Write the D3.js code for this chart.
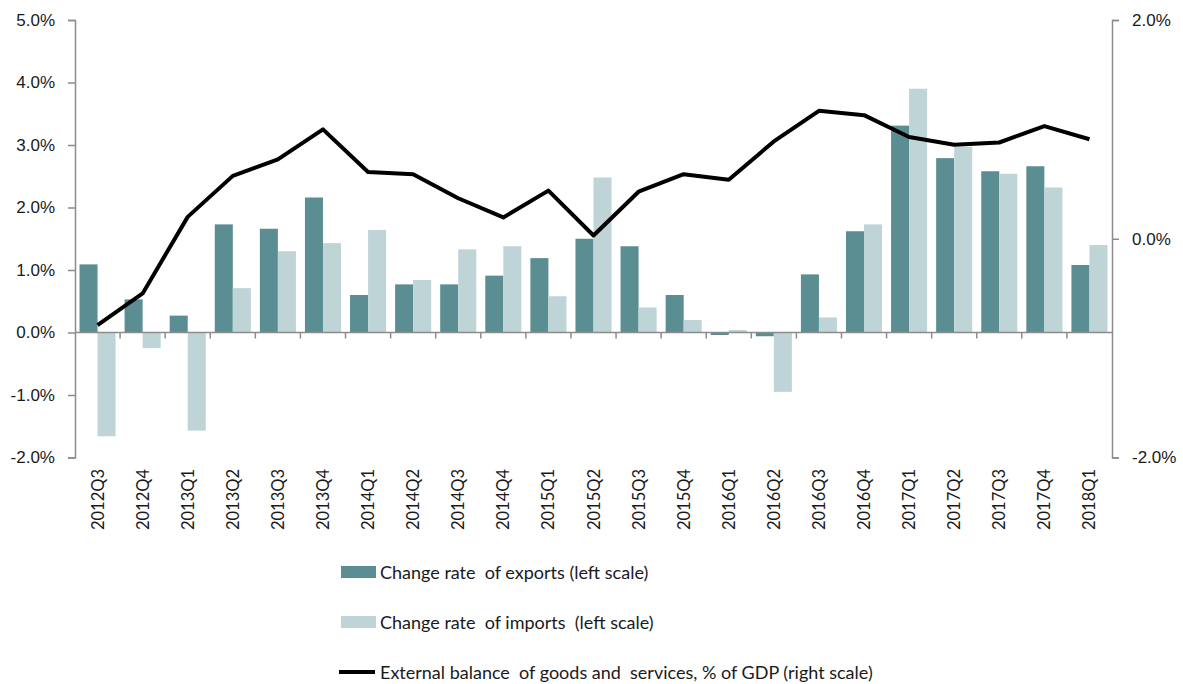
<!DOCTYPE html>
<html>
<head>
<meta charset="utf-8">
<script src="https://cdn.jsdelivr.net/npm/d3@7"></script>
<style>
  body { margin: 0; background: #fff; }
  svg { font-family: Lato, "Open Sans", sans-serif; }
</style>
</head>
<body>
<svg id="chart"></svg>
<script>
const quarters = ["2012Q3", "2012Q4", "2013Q1", "2013Q2", "2013Q3", "2013Q4", "2014Q1", "2014Q2",
  "2014Q3", "2014Q4", "2015Q1", "2015Q2", "2015Q3", "2015Q4", "2016Q1", "2016Q2", "2016Q3",
  "2016Q4", "2017Q1", "2017Q2", "2017Q3", "2017Q4", "2018Q1"];
const exportsRate = [1.09, 0.53, 0.27, 1.73, 1.66, 2.16, 0.60, 0.77, 0.77, 0.91, 1.19, 1.50, 1.38,
  0.60, -0.04, -0.06, 0.93, 1.62, 3.31, 2.79, 2.58, 2.66, 1.08];
const importsRate = [-1.66, -0.25, -1.57, 0.71, 1.30, 1.43, 1.64, 0.84, 1.33, 1.38, 0.58, 2.48, 0.40,
  0.20, 0.04, -0.95, 0.24, 1.73, 3.90, 2.97, 2.54, 2.32, 1.40];
const externalBalance = [-0.79, -0.50, 0.20, 0.575, 0.725, 1.00, 0.61, 0.59, 0.37, 0.195, 0.44, 0.03,
  0.43, 0.59, 0.54, 0.89, 1.17, 1.13, 0.93, 0.86, 0.88, 1.03, 0.91];
const leftTicks = [-2, -1, 0, 1, 2, 3, 4, 5];
const rightTicks = [-2, 0, 2];
const seriesNames = ["Change rate  of exports (left scale)", "Change rate  of imports  (left scale)",
  "External balance  of goods and  services, % of GDP (right scale)"];

const w = 1183, h = 684;
const plotLeft = 75, plotRight = 1112, plotTop = 20, plotBottom = 457.5;
const expColor = "#5b8e93", impColor = "#bfd4d7", axisColor = "#8c8c8c";
const pct = d => d3.format(".1f")(d).replace("\u2212", "-") + "%";

const svg = d3.select("#chart").attr("width", w).attr("height", h);

const x = d3.scaleBand().domain(quarters).range([plotLeft, plotRight]).padding(0);
const xInner = d3.scaleBand().domain(["exp", "imp"]).range([0, x.bandwidth()]).paddingInner(0).paddingOuter(0.25);
const yLeft = d3.scaleLinear().domain([-2, 5]).range([plotBottom, plotTop]);
const yRight = d3.scaleLinear().domain([-2, 2]).range([plotBottom, plotTop]);

// bars
const rows = quarters.map((q, i) => ({ q, exp: exportsRate[i], imp: importsRate[i] }));
const groups = svg.append("g").selectAll("g").data(rows).enter().append("g")
  .attr("transform", d => "translate(" + x(d.q) + ",0)");
groups.append("rect")
  .attr("x", xInner("exp"))
  .attr("width", xInner.bandwidth())
  .attr("y", d => yLeft(Math.max(0, d.exp)))
  .attr("height", d => Math.abs(yLeft(d.exp) - yLeft(0)))
  .attr("fill", expColor);
groups.append("rect")
  .attr("x", xInner("imp"))
  .attr("width", xInner.bandwidth())
  .attr("y", d => yLeft(Math.max(0, d.imp)))
  .attr("height", d => Math.abs(yLeft(d.imp) - yLeft(0)))
  .attr("fill", impColor);

// left axis
const axL = svg.append("g").attr("transform", "translate(" + plotLeft + ",0)")
  .call(d3.axisLeft(yLeft).tickValues(leftTicks).tickSize(7).tickPadding(13).tickFormat(pct));
// right axis
const axR = svg.append("g").attr("transform", "translate(" + plotRight + ",0)")
  .call(d3.axisRight(yRight).tickValues(rightTicks).tickSize(7).tickPadding(13).tickFormat(pct));
[axL, axR].forEach(a => {
  a.select(".domain").attr("stroke", axisColor).attr("stroke-width", 1.5);
  a.selectAll(".tick line").attr("stroke", axisColor).attr("stroke-width", 1.5);
  a.selectAll(".tick text").attr("fill", "#1a1a1a").style("font-size", "17px");
});

// category axis at zero
const axB = svg.append("g").attr("transform", "translate(0," + yLeft(0) + ")");
axB.append("line").attr("x1", plotLeft).attr("x2", plotRight)
  .attr("stroke", axisColor).attr("stroke-width", 1.5);
axB.selectAll("line.tk").data(quarters.slice(1)).enter().append("line")
  .attr("class", "tk")
  .attr("x1", d => x(d)).attr("x2", d => x(d))
  .attr("y1", 0).attr("y2", 6)
  .attr("stroke", axisColor).attr("stroke-width", 1.5);
svg.append("g").selectAll("text").data(quarters).enter().append("text")
  .attr("transform", d => "translate(" + (x(d) + x.bandwidth() / 2 + 6) + ",469) rotate(-90)")
  .attr("text-anchor", "end")
  .style("font-size", "16.5px")
  .attr("fill", "#1a1a1a")
  .text(d => d);

// line
const line = d3.line()
  .x((d, i) => x(quarters[i]) + x.bandwidth() / 2)
  .y(d => yRight(d));
svg.append("path").datum(externalBalance)
  .attr("d", line)
  .attr("fill", "none")
  .attr("stroke", "#000")
  .attr("stroke-width", 4)
  .attr("stroke-linejoin", "round");

// legend
const lg = svg.append("g");
lg.append("rect").attr("x", 341).attr("y", 566).attr("width", 35).attr("height", 12).attr("fill", expColor);
lg.append("rect").attr("x", 341).attr("y", 616).attr("width", 35).attr("height", 12).attr("fill", impColor);
lg.append("line").attr("x1", 339).attr("x2", 375).attr("y1", 672).attr("y2", 672)
  .attr("stroke", "#000").attr("stroke-width", 4);
lg.selectAll("text").data(seriesNames).enter().append("text")
  .attr("x", 380)
  .attr("y", (d, i) => 579 + i * 50)
  .style("font-size", "18px")
  .style("white-space", "pre")
  .attr("fill", "#1a1a1a")
  .text(d => d);
</script>
</body>
</html>
